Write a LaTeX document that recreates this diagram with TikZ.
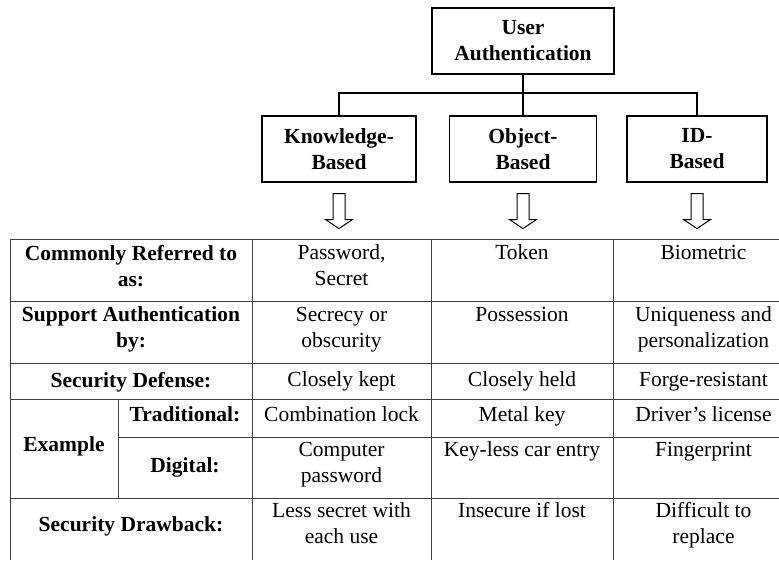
\documentclass[tikz,border=0pt]{standalone}
\usepackage{fontspec}
\setmainfont{Liberation Serif}
\newcommand\fsz{\fontsize{21.5}{26}\selectfont}
\tikzset{
  hollowarrow/.pic={
    \draw[harrow] (-6,0) -- (-6,26) -- (-13.5,26) -- (0,35) -- (13.5,26) -- (6,26) -- (6,0) -- cycle;
  }
}
\begin{document}
\begin{tikzpicture}[x=1pt,y=-1pt,
  box/.style={draw=black, line width=1.1pt, align=center, inner sep=0pt, font=\bfseries\fsz},
  cell/.style={anchor=north, inner sep=0pt, align=center, font=\fsz},
  hcell/.style={cell, font=\bfseries\fsz},
  gridline/.style={draw=black!75, line width=0.9pt},
  conn/.style={draw=black, line width=1.1pt},
  harrow/.style={draw=black, line width=1pt, line join=miter}]
\useasboundingbox (0,0) rectangle (779,560);

% top hierarchy
\node[box, minimum width=182pt, minimum height=66pt] (root) at (523,41) {User\\Authentication};
\node[box, minimum width=154pt, minimum height=66pt] (kb) at (339,149) {Knowledge-\\Based};
\node[box, minimum width=147pt, minimum height=66pt] (ob) at (523,149) {Object-\\Based};
\node[box, minimum width=140pt, minimum height=66pt] (idb) at (697,149) {ID-\\Based};

\coordinate (busL) at (339,93);
\coordinate (busM) at (523,93);
\coordinate (busR) at (697,93);
\draw[conn] (root.south) -- (busM) -- (ob.north);
\draw[conn] (kb.north) -- (busL) -- (busR) -- (idb.north);

\path (kb.south) ++(0,11) pic {hollowarrow};
\path (ob.south) ++(0,11) pic {hollowarrow};
\path (idb.south) ++(0,11) pic {hollowarrow};

% table grid
\draw[gridline] (10,239.5) -- (779,239.5);
\draw[gridline] (10,301) -- (779,301);
\draw[gridline] (10,363) -- (779,363);
\draw[gridline] (10,399) -- (779,399);
\draw[gridline] (118,437) -- (779,437);
\draw[gridline] (10,498.5) -- (779,498.5);
\draw[gridline] (10,239.5) -- (10,560);
\draw[gridline] (252,239.5) -- (252,560);
\draw[gridline] (431,239.5) -- (431,560);
\draw[gridline] (613,239.5) -- (613,560);
\draw[gridline] (118,399) -- (118,498.5);

% row labels
\node[hcell] (l1) at (131,244.8) {Commonly Referred to\\as:};
\node[hcell] (l2) at (131,306.8) {Support Authentication\\by:};
\node[hcell] (l3) at (131,371.8) {Security Defense:};
\node[hcell] (l4) at (64,436.5) {Example};
\node[hcell] (l4a) at (185,406.3) {Traditional:};
\node[hcell] (l4b) at (185,457) {Digital:};
\node[hcell] (l5) at (131,516.3) {Security Drawback:};

% column: knowledge
\node[cell] (k1) at (341.5,244.8) {Password,\\Secret};
\node[cell] (k2) at (341.5,306.8) {Secrecy or\\obscurity};
\node[cell] (k3) at (341.5,371.8) {Closely kept};
\node[cell] (k4) at (341.5,406.3) {Combination lock};
\node[cell] (k5) at (341.5,441.8) {Computer\\password};
\node[cell] (k6) at (341.5,502.3) {Less secret with\\each use};

% column: object
\node[cell] (o1) at (522,244.8) {Token};
\node[cell] (o2) at (522,306.8) {Possession};
\node[cell] (o3) at (522,371.8) {Closely held};
\node[cell] (o4) at (522,406.3) {Metal key};
\node[cell] (o5) at (522,441.8) {Key-less car entry};
\node[cell] (o6) at (522,502.3) {Insecure if lost};

% column: ID
\node[cell] (i1) at (703.5,244.8) {Biometric};
\node[cell] (i2) at (703.5,306.8) {Uniqueness and\\personalization};
\node[cell] (i3) at (703.5,371.8) {Forge-resistant};
\node[cell] (i4) at (703.5,406.3) {Driver’s license};
\node[cell] (i5) at (703.5,441.8) {Fingerprint};
\node[cell] (i6) at (703.5,502.3) {Difficult to\\replace};
\end{tikzpicture}
\end{document}
